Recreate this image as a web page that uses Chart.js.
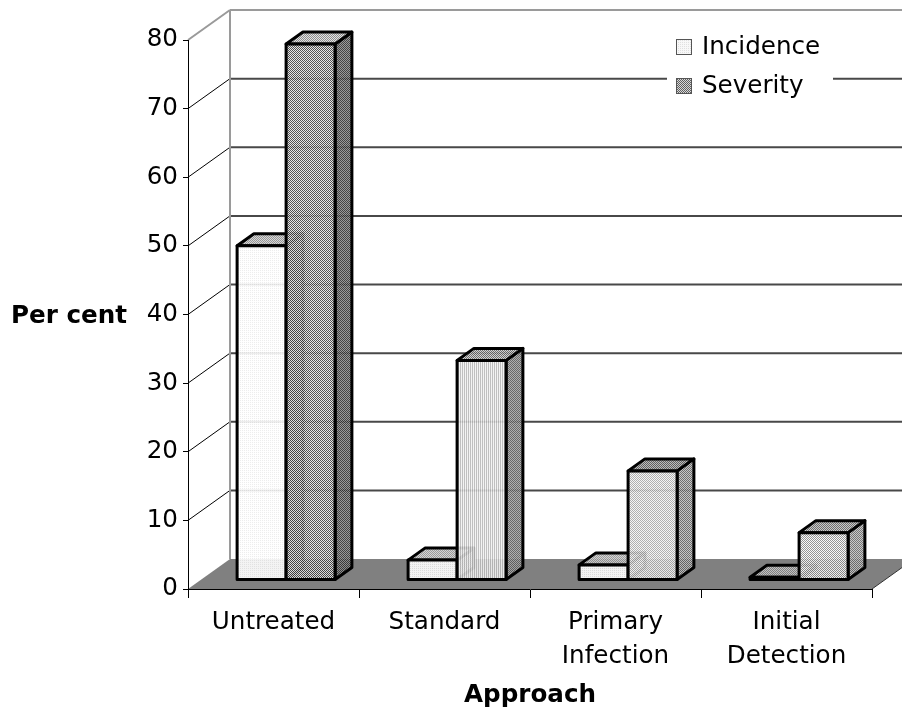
<!DOCTYPE html>
<html>
<head>
<meta charset="utf-8">
<script src="https://cdn.jsdelivr.net/npm/chart.js@4.4.1/dist/chart.umd.min.js"></script>
<style>
  html, body { margin: 0; padding: 0; background: #fff; overflow: hidden; }
  #wrap { width: 902px; height: 708px; }
</style>
</head>
<body>
<div id="wrap"><canvas id="c" width="902" height="708"></canvas></div>
<script>
// ---- data ----
const categories = ['Untreated', 'Standard', ['Primary', 'Infection'], ['Initial', 'Detection']];
const seriesNames = ['Incidence', 'Severity'];
const incidence = [48.7, 2.9, 2.2, 0.4];
const severity = [78.1, 32, 15.9, 6.9];
const yTicks = [0, 10, 20, 30, 40, 50, 60, 70, 80];
const yTitle = 'Per cent';
const xTitle = 'Approach';

// ---- 3D layout ----
const FONT = "'DejaVu Sans', Verdana, sans-serif";
const FONT_SIZE = 24.6;
const DEPTH = { x: 42, y: -30 };      // offset from front plane to back wall
const BAR_FRONT = 0.3, BAR_BACK = 0.7; // bar slab position within the depth

// small repeating fill textures
function texture(kind, a, b) {
  const c = document.createElement('canvas');
  c.width = 2; c.height = 2;
  const g = c.getContext('2d');
  g.fillStyle = b; g.fillRect(0, 0, 2, 2);
  g.fillStyle = a;
  if (kind === 'checker') { g.fillRect(0, 0, 1, 1); g.fillRect(1, 1, 1, 1); }
  else if (kind === 'stripe') { g.fillRect(0, 0, 1, 2); }
  else { g.fillRect(0, 0, 1, 1); }
  return g.createPattern(c, 'repeat');
}

// face fills per series, per category: [front, top, side]
const faceStyles = [
  [
    [texture('dots', '#ececec', '#ffffff'), texture('checker', '#8a8a8a', '#d4d4d4'), texture('checker', '#707070', '#b8b8b8')],
    [texture('dots', '#e4e4e4', '#ffffff'), texture('checker', '#909090', '#d0d0d0'), texture('checker', '#707070', '#b8b8b8')],
    [texture('dots', '#e4e4e4', '#ffffff'), texture('checker', '#909090', '#d0d0d0'), texture('checker', '#707070', '#b8b8b8')],
    [texture('dots', '#e4e4e4', '#ffffff'), texture('checker', '#808080', '#c8c8c8'), texture('checker', '#707070', '#b8b8b8')]
  ],
  [
    [texture('checker', '#404040', '#e4e4e4'), texture('checker', '#808080', '#e0e0e0'), texture('checker', '#303030', '#909090')],
    [texture('stripe', '#b8b8b8', '#f2f2f2'), texture('checker', '#606060', '#d0d0d0'), texture('checker', '#5a5a5a', '#a8a8a8')],
    [texture('checker', '#a8a8a8', '#f4f4f4'), texture('checker', '#505050', '#b4b4b4'), texture('checker', '#606060', '#c0c0c0')],
    [texture('checker', '#8a8a8a', '#fafafa'), texture('checker', '#606060', '#c4c4c4'), texture('checker', '#686868', '#c4c4c4')]
  ]
];
const legendSwatches = [texture('dots', '#e0e0e0', '#f8f8f8'), texture('checker', '#606060', '#d8d8d8')];

function line(ctx, x1, y1, x2, y2) {
  ctx.beginPath(); ctx.moveTo(x1, y1); ctx.lineTo(x2, y2); ctx.stroke();
}
function poly(ctx, pts, fill) {
  ctx.beginPath();
  ctx.moveTo(pts[0][0], pts[0][1]);
  for (let i = 1; i < pts.length; i++) ctx.lineTo(pts[i][0], pts[i][1]);
  ctx.closePath();
  ctx.save();
  ctx.globalAlpha = 0.9;
  ctx.fillStyle = fill; ctx.fill();
  ctx.restore();
  ctx.stroke();
}

// walls, floor and the back gridlines
const backdrop = {
  id: 'backdrop',
  beforeDraw(chart) {
    const { ctx, chartArea: a } = chart;
    const y = chart.scales.y;
    const dx = DEPTH.x, dy = DEPTH.y;
    ctx.save();
    ctx.fillStyle = '#808080';
    ctx.beginPath();
    ctx.moveTo(a.left, a.bottom); ctx.lineTo(a.right, a.bottom);
    ctx.lineTo(a.right + dx, a.bottom + dy); ctx.lineTo(a.left + dx, a.bottom + dy);
    ctx.closePath(); ctx.fill();
    ctx.strokeStyle = '#333'; ctx.lineWidth = 1;
    line(ctx, a.right, a.bottom, a.right + dx, a.bottom + dy);

    yTicks.forEach(v => {
      if (v === 0) return;
      const py = y.getPixelForValue(v);
      const top = v === yTicks[yTicks.length - 1];
      ctx.strokeStyle = top ? '#9a9a9a' : '#484848';
      ctx.lineWidth = 2;
      line(ctx, a.left + dx, py + dy, a.right + dx, py + dy);
      ctx.strokeStyle = top ? '#9a9a9a' : '#000';
      ctx.lineWidth = top ? 2 : 1;
      line(ctx, a.left, py, a.left + dx, py + dy);
    });
    ctx.strokeStyle = '#9a9a9a'; ctx.lineWidth = 2;
    line(ctx, a.left + dx, y.getPixelForValue(yTicks[yTicks.length - 1]) + dy, a.left + dx, a.bottom + dy);
    ctx.restore();
  }
};

// columns drawn as boxes from the bar elements' own geometry
const columns3d = {
  id: 'columns3d',
  afterDatasetsDraw(chart) {
    const ctx = chart.ctx;
    const fx = DEPTH.x * BAR_FRONT, fy = DEPTH.y * BAR_FRONT;
    const bx = DEPTH.x * (BAR_BACK - BAR_FRONT), by = DEPTH.y * (BAR_BACK - BAR_FRONT);
    const metas = chart.data.datasets.map((d, i) => chart.getDatasetMeta(i));
    ctx.save();
    ctx.strokeStyle = '#000';
    ctx.lineWidth = 3;
    ctx.lineJoin = 'round';
    categories.forEach((_, j) => {
      metas.forEach((m, i) => {
        const el = m.data[j];
        const p = el.getProps(['x', 'y', 'base', 'width'], true);
        const x0 = p.x - p.width / 2 + fx, x1 = p.x + p.width / 2 + fx;
        const yT = p.y + fy, yB = p.base + fy;
        const [front, top, side] = faceStyles[i][j];
        poly(ctx, [[x1, yT], [x1 + bx, yT + by], [x1 + bx, yB + by], [x1, yB]], side);
        poly(ctx, [[x0, yT], [x1, yT], [x1 + bx, yT + by], [x0 + bx, yT + by]], top);
        poly(ctx, [[x0, yT], [x1, yT], [x1, yB], [x0, yB]], front);
      });
    });
    ctx.restore();
  }
};

// horizontal value-axis title and the legend
const annotations = {
  id: 'annotations',
  afterDraw(chart) {
    const ctx = chart.ctx;
    const y = chart.scales.y;
    ctx.save();
    ctx.fillStyle = '#000';
    ctx.font = 'bold ' + FONT_SIZE + 'px ' + FONT;
    ctx.textAlign = 'left';
    ctx.textBaseline = 'middle';
    ctx.fillText(yTitle, 11, y.getPixelForValue(40) + 2);

    // legend
    const lx = 667, ly = 28, lw = 166, lh = 78;
    ctx.fillStyle = '#fff';
    ctx.fillRect(lx, ly, lw, lh);
    ctx.font = FONT_SIZE + 'px ' + FONT;
    seriesNames.forEach((name, i) => {
      const cy = 47 + i * 39;
      ctx.fillStyle = legendSwatches[i];
      ctx.fillRect(676, cy - 8, 16, 16);
      ctx.strokeStyle = '#555';
      ctx.lineWidth = 1;
      ctx.strokeRect(676.5, cy - 7.5, 15, 15);
      ctx.fillStyle = '#000';
      ctx.fillText(name, 702, cy + 1);
    });
    ctx.restore();
  }
};

new Chart(document.getElementById('c'), {
  type: 'bar',
  data: {
    labels: categories,
    datasets: [
      { label: seriesNames[0], data: incidence, backgroundColor: 'rgba(0,0,0,0)', borderWidth: 0 },
      { label: seriesNames[1], data: severity, backgroundColor: 'rgba(0,0,0,0)', borderWidth: 0 }
    ]
  },
  options: {
    responsive: false,
    devicePixelRatio: 1,
    animation: false,
    layout: { padding: { top: 40, right: 30, left: 0, bottom: 0 } },
    datasets: { bar: { categoryPercentage: 0.573, barPercentage: 1 } },
    plugins: { legend: { display: false }, tooltip: { enabled: false } },
    scales: {
      x: {
        grid: { drawOnChartArea: false, offset: true, color: '#000', tickLength: 9 },
        border: { color: '#000', width: 1 },
        ticks: { color: '#000', font: { family: FONT, size: FONT_SIZE, lineHeight: 1.38 }, padding: 8, maxRotation: 0, autoSkip: false },
        title: { display: true, text: xTitle, color: '#000', font: { family: FONT, size: FONT_SIZE, weight: 'bold' }, padding: { top: 0, bottom: -2 } },
        afterFit: s => { s.height = 119; }
      },
      y: {
        min: 0, max: 80,
        afterBuildTicks: s => { s.ticks = yTicks.map(v => ({ value: v })); },
        grid: { drawOnChartArea: false, color: '#000', tickLength: 5 },
        border: { color: '#000', width: 1 },
        ticks: { color: '#000', font: { family: FONT, size: FONT_SIZE }, padding: 5 },
        afterFit: s => { s.width = 188; }
      }
    }
  },
  plugins: [backdrop, columns3d, annotations]
});
</script>
</body>
</html>
